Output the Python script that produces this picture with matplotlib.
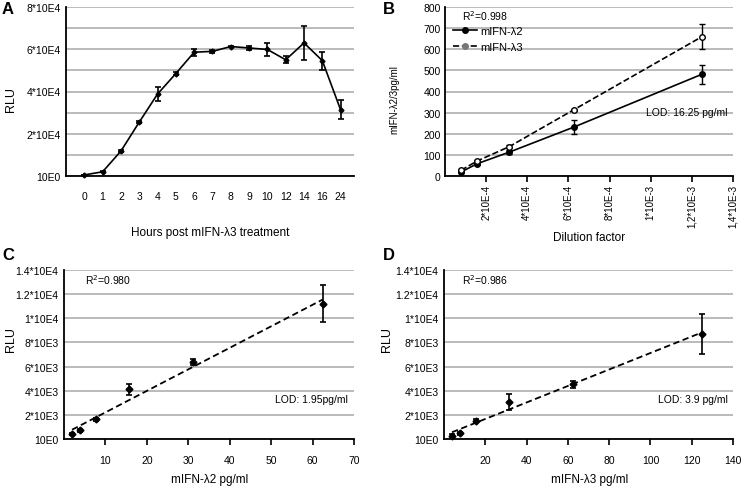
import numpy as np
import matplotlib
matplotlib.use("Agg")
import matplotlib.pyplot as plt
from matplotlib.lines import Line2D

plt.rcParams["font.family"] = ["Liberation Sans", "DejaVu Sans"]

# panel A: time course
hours = ["0", "1", "2", "3", "4", "5", "6", "7", "8", "9", "10", "12", "14", "16", "24"]
rlu_a = [500, 2000, 11800, 25500, 38800, 48500, 58600, 59000, 61300, 60600, 59900, 55000, 63000, 54600, 31300]
err_a = [200, 300, 500, 600, 3100, 700, 1700, 600, 300, 1100, 3000, 1650, 8200, 4300, 4500]
yticks_a = [0, 20000, 40000, 60000, 80000]
ylabels_a = ["10E0", "2*10E4", "4*10E4", "6*10E4", "8*10E4"]

# panel B: standard curves
dilution = [7.8e-5, 1.56e-4, 3.125e-4, 6.25e-4, 1.25e-3]
lam2_b = [19, 58, 113, 231, 482]
lam2_err = [5, 6, 10, 34, 45]
lam3_b = [27, 71, 139, 313, 660]
lam3_err = [5, 6, 8, 6, 61]
xticks_b = [2e-4, 4e-4, 6e-4, 8e-4, 1e-3, 1.2e-3, 1.4e-3]
xlabels_b = ["2*10E-4", "4*10E-4", "6*10E-4", "8*10E-4", "1*10E-3", "1,2*10E-3", "1,4*10E-3"]

# panel C / D: RLU vs concentration
conc_c = [1.95, 3.9, 7.8, 15.6, 31.25, 62.5]
rlu_c = [414, 718, 1630, 4116, 6381, 11200]
err_c = [100, 100, 140, 480, 220, 1540]
conc_d = [3.9, 7.8, 15.6, 31.25, 62.5, 125]
rlu_d = [273, 470, 1512, 3080, 4545, 8690]
err_d = [100, 100, 120, 650, 300, 1650]
yticks_cd = [0, 2000, 4000, 6000, 8000, 10000, 12000, 14000]
ylabels_cd = ["10E0", "2*10E3", "4*10E3", "6*10E3", "8*10E3", "1*10E4", "1.2*10E4", "1.4*10E4"]

W, H = 741, 489
GRID = "#a8a8a8"
TICK_FS = 7.5


def rect(l, t, r, b):
    return [l / W, 1 - b / H, (r - l) / W, (b - t) / H]


def ftext(x, y, s, **kw):
    fig.text(x / W, 1 - y / H, s, **kw)


def style_axes(ax):
    for side in ["top", "right"]:
        ax.spines[side].set_visible(False)
    for side in ["left", "bottom"]:
        ax.spines[side].set_linewidth(1.3)
        ax.spines[side].set_zorder(5)
    ax.yaxis.grid(True, color=GRID, lw=1.1)
    ax.set_axisbelow(True)
    ax.tick_params(axis="y", length=0, pad=4, labelsize=TICK_FS)
    ax.tick_params(axis="x", labelsize=TICK_FS)


fig = plt.figure(figsize=(W / 100, H / 100), dpi=100)

# ---- A
ax = fig.add_axes(rect(66, 8, 354, 177))
style_axes(ax)
xa = np.arange(len(hours))
ax.errorbar(xa, rlu_a, yerr=err_a, color="black", lw=1.2, marker="D", ms=2.5,
            capsize=2.5, elinewidth=1.2, capthick=1.2, clip_on=False, zorder=6)
ax.set_xlim(-1, 14.73)
ax.set_ylim(0, 80000)
ax.set_yticks(yticks_a)
ax.set_yticklabels(ylabels_a)
ax.set_yticks(np.arange(10000, 80000, 20000), minor=True)
ax.yaxis.grid(True, which="both", color=GRID, lw=1.1)
ax.tick_params(axis="y", which="minor", length=0)
ax.set_xticks(xa)
ax.set_xticklabels(hours)
ax.tick_params(axis="x", length=0, pad=11)
ftext(210, 233, "Hours post mIFN-λ3 treatment", fontsize=8.5, ha="center", va="center")
ftext(11, 100, "RLU", fontsize=9, rotation=90, ha="center", va="center")

# ---- B
ax = fig.add_axes(rect(445, 8, 733, 177))
style_axes(ax)
ax.errorbar(dilution, lam2_b, yerr=lam2_err, color="black", lw=1.2, marker="o", ms=4,
            capsize=2.5, elinewidth=1.0, capthick=1.0, clip_on=False, zorder=6)
ax.errorbar(dilution, lam3_b, yerr=lam3_err, color="black", lw=1.2, ls="--", marker="o", ms=4,
            mfc="white", mec="black", capsize=2.5, elinewidth=1.0, capthick=1.0,
            clip_on=False, zorder=6)
ax.set_xlim(0, 1.4e-3)
ax.set_ylim(0, 800)
ax.set_yticks(np.arange(0, 801, 100))
ax.set_xticks(xticks_b)
ax.set_xticklabels(xlabels_b, rotation=90)
ax.tick_params(axis="x", length=4, width=1.2, pad=1.5, labelsize=7)
ax.tick_params(axis="y", pad=3)
handles = [Line2D([], [], color="black", lw=1.2, marker="o", ms=4),
           Line2D([], [], color="black", lw=1.2, ls="--", marker="o", ms=4, mfc="#777777", mec="#777777")]
ax.legend(handles, ["mIFN-λ2", "mIFN-λ3"], loc="upper left",
          bbox_to_anchor=(8 / 288, 1 - (27 - 8) / 169),
          frameon=False, fontsize=8, handlelength=2.2, handletextpad=0.3, labelspacing=0.55,
          borderaxespad=0, borderpad=0)
ftext(462, 16, "R$^2$=0.998", fontsize=7.5, va="center")
ftext(728, 113, "LOD: 16.25 pg/ml", fontsize=7.5, ha="right", va="center")
ftext(589, 238, "Dilution factor", fontsize=8.5, ha="center", va="center")
ftext(394, 100, "mIFN-λ2/3pg/ml", fontsize=7, rotation=90, ha="center", va="center")


# ---- C and D
def conc_panel(r, conc, rlu, err, xmax, xticks, r2, lod, xlabel, ylab_x, r2_x, lod_x, xl_x):
    ax = fig.add_axes(r)
    style_axes(ax)
    fit = np.polyfit(conc, rlu, 1)
    xx = np.array([min(conc), max(conc)])
    ax.plot(xx, np.polyval(fit, xx), color="black", lw=1.3, ls=(0, (3.5, 2)), zorder=4)
    ax.errorbar(conc, rlu, yerr=err, color="black", ls="none", marker="D", ms=3.5,
                capsize=2.5, elinewidth=1.2, capthick=1.2, clip_on=False, zorder=6)
    ax.set_xlim(0, xmax)
    ax.set_ylim(0, 14000)
    ax.set_yticks(yticks_cd)
    ax.set_yticklabels(ylabels_cd)
    ax.set_xticks(xticks)
    ax.tick_params(axis="x", length=4.5, width=1.2, pad=7)
    ftext(r2_x, 280, r2, fontsize=7.5, va="center")
    ftext(lod_x, 400, lod, fontsize=7.5, ha="right", va="center")
    ftext(xl_x, 480, xlabel, fontsize=8.5, ha="center", va="center")
    ftext(ylab_x, 340, "RLU", fontsize=9, rotation=90, ha="center", va="center")
    return ax


conc_panel(rect(64, 271, 354, 440), conc_c, rlu_c, err_c, 70, np.arange(10, 71, 10),
           "R$^2$=0.980", "LOD: 1.95pg/ml", "mIFN-λ2 pg/ml", 11, 85, 348, 210)
conc_panel(rect(444, 271, 733, 440), conc_d, rlu_d, err_d, 140, np.arange(20, 141, 20),
           "R$^2$=0.986", "LOD: 3.9 pg/ml", "mIFN-λ3 pg/ml", 387, 462, 728, 590)

for x, y, s in [(8, 9, "A"), (389, 9, "B"), (8, 256, "C"), (389, 256, "D")]:
    ftext(x, y, s, fontsize=12, fontweight="bold", ha="center", va="center")

fig.savefig("out.png", dpi=100)
